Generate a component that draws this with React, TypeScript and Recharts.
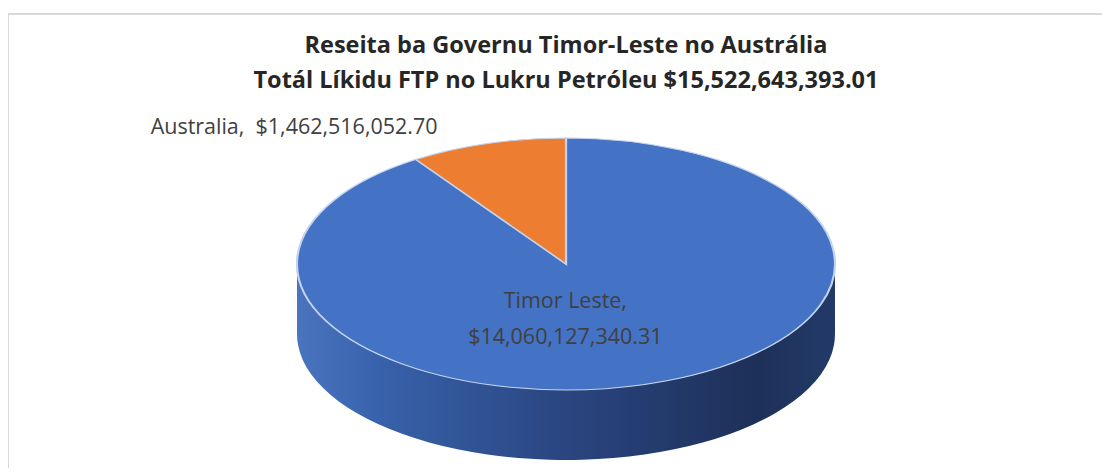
import { PieChart, Pie, Cell } from 'recharts';

const sliceNames = ['Timor Leste', 'Australia'];
const sliceValues = [14060127340.31, 1462516052.7];
const sliceColors = ['#4472C4', '#ED7D31'];
const titleLines = [
  'Reseita ba Governu Timor-Leste no Austrália',
  'Totál Líkidu FTP no Lukru Petróleu $15,522,643,393.01',
];

const data = sliceNames.map((name, i) => ({ name, value: sliceValues[i] }));

const W = 1110;
const H = 476;
const CX = 566;
const CY = 264;
const RX = 269;
const RY = 126;
const DEPTH = 70;
// the pie is drawn round and squashed vertically to look like Excel's 3D pie
const K = RY / RX;
const HS = H / K;
const CYS = CY / K;
const DEPTHS = DEPTH / K;

const FONT = "'Open Sans', 'Noto Sans', sans-serif";

const money = (v: number) =>
  '$' + v.toLocaleString('en-US', { minimumFractionDigits: 2, maximumFractionDigits: 2 });

function renderLabel(p: any) {
  const rad = Math.PI / 180;
  const mid = p.midAngle;
  let x: number;
  let y: number;
  let lines: string[];
  let anchor: 'start' | 'middle' | 'end';
  if (p.index === 1) {
    // outside, upper left
    x = p.cx + p.outerRadius * Math.cos(-mid * rad) - 50;
    y = (p.cy + p.outerRadius * Math.sin(-mid * rad)) * K - 9;
    lines = [`${p.name},  ${money(p.value)}`];
    anchor = 'end';
  } else {
    x = p.cx + p.outerRadius * 0.45 * Math.cos(-mid * rad) - 36;
    y = (p.cy + p.outerRadius * 0.45 * Math.sin(-mid * rad)) * K - 10;
    lines = [`${p.name},`, money(p.value)];
    anchor = 'middle';
  }
  return (
    <text
      key={`lbl-${p.index}`}
      transform={`translate(${x} ${y / K}) scale(1 ${1 / K})`}
      textAnchor={anchor}
      fill="#404040"
      fontSize={21.5}
      fontFamily={FONT}
      style={{ whiteSpace: 'pre' }}
    >
      {lines.map((t, i) => (
        <tspan key={i} x={0} y={i * 36}>
          {t}
        </tspan>
      ))}
    </text>
  );
}

export default function App() {
  return (
    <div style={{ position: 'relative', width: W, height: H, margin: -8, overflow: 'hidden', background: '#fff' }}>
      <div
        style={{
          position: 'absolute',
          left: 7,
          top: 13,
          width: W,
          height: H,
          border: '2px solid #d9d9d9',
        }}
      />
      <div
        style={{
          position: 'absolute',
          left: 0,
          top: 27,
          width: 2 * CX,
          textAlign: 'center',
          fontFamily: FONT,
          fontWeight: 700,
          fontSize: 23.5,
          lineHeight: '35px',
          color: '#262626',
        }}
      >
        {titleLines.map((t) => (
          <div key={t}>{t}</div>
        ))}
      </div>
      <div
        style={{
          position: 'absolute',
          left: 0,
          top: 0,
          width: W,
          height: HS,
          transform: `scaleY(${K})`,
          transformOrigin: '0 0',
        }}
      >
        <PieChart width={W} height={HS} margin={{ top: 0, right: 0, bottom: 0, left: 0 }}>
          <defs>
            <linearGradient id="sideGrad" x1="0" y1="0" x2="1" y2="0">
              <stop offset="0%" stopColor="#4b74bf" />
              <stop offset="15%" stopColor="#3862ab" />
              <stop offset="50%" stopColor="#2a4580" />
              <stop offset="85%" stopColor="#1d3058" />
              <stop offset="100%" stopColor="#233a69" />
            </linearGradient>
          </defs>
          <rect x={CX - RX} y={CYS} width={2 * RX} height={DEPTHS} fill="url(#sideGrad)" />
          <Pie
            data={data}
            dataKey="value"
            nameKey="name"
            cx={CX}
            cy={CYS + DEPTHS}
            outerRadius={RX}
            startAngle={90}
            endAngle={-270}
            stroke="none"
            isAnimationActive={false}
          >
            {data.map((d) => (
              <Cell key={`side-${d.name}`} fill="url(#sideGrad)" stroke="none" />
            ))}
          </Pie>
          <Pie
            data={data}
            dataKey="value"
            nameKey="name"
            cx={CX}
            cy={CYS}
            outerRadius={RX}
            startAngle={90}
            endAngle={-270}
            isAnimationActive={false}
            label={renderLabel}
            labelLine={false}
          >
            {data.map((d, i) => (
              <Cell key={`top-${d.name}`} fill={sliceColors[i]} stroke="#c3d3ee" strokeWidth={2.2} />
            ))}
          </Pie>
        </PieChart>
      </div>
    </div>
  );
}
